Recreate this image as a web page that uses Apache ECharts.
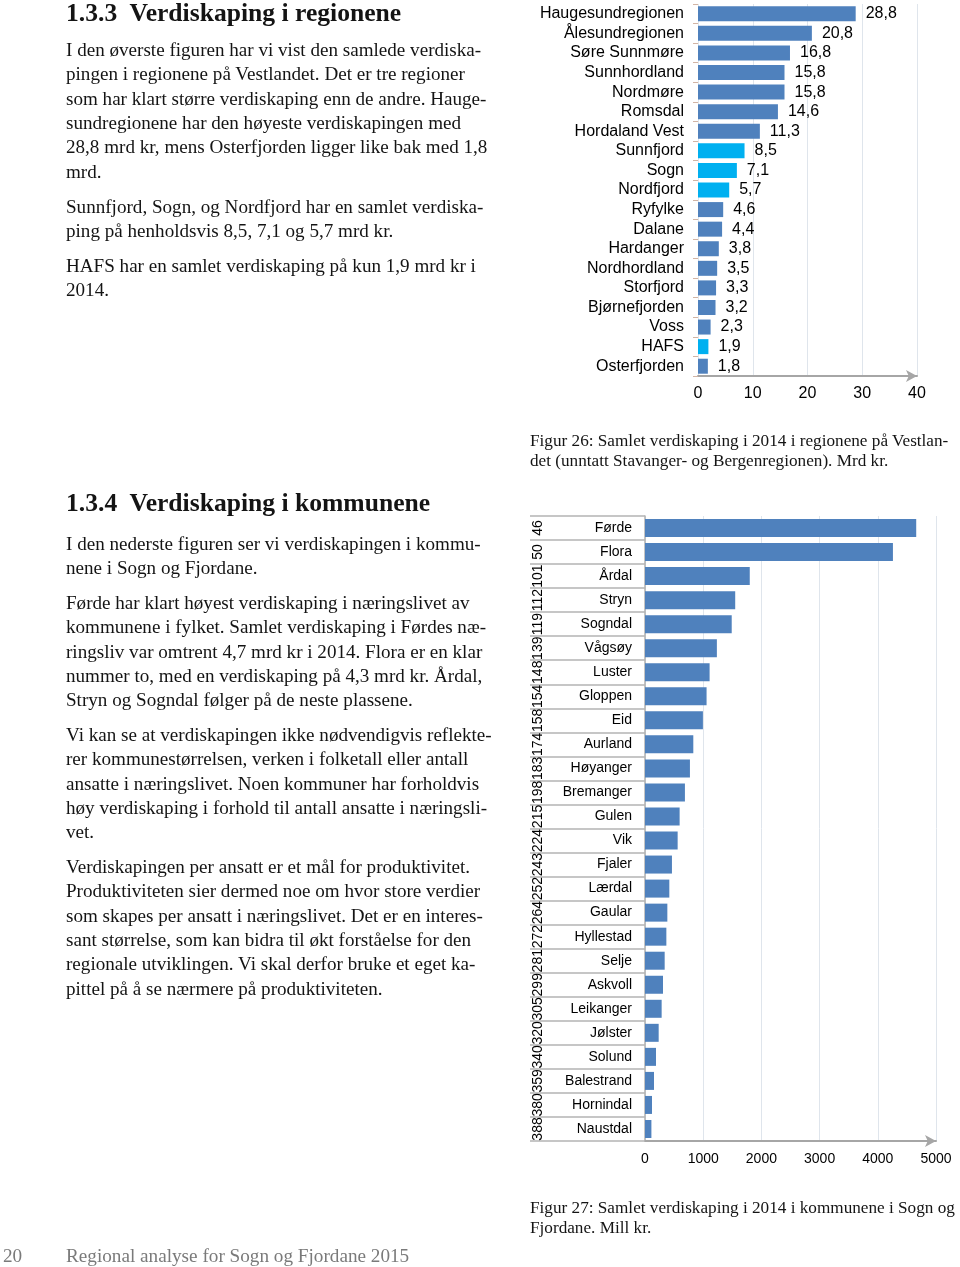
<!DOCTYPE html>
<html>
<head>
<meta charset="utf-8">
<script src="https://cdn.jsdelivr.net/npm/echarts@6/dist/echarts.min.js"></script>
<style>
html,body{margin:0;padding:0;background:#fff;}
#page{position:relative;width:960px;height:1267px;overflow:hidden;background:#fff;}
#chart{position:absolute;left:0;top:0;width:960px;height:1267px;}
.t{position:absolute;font-family:"Liberation Serif","DejaVu Serif",serif;color:#141414;white-space:pre;}
.h{font-size:25.6px;font-weight:bold;line-height:30px;left:66px;}
.p{font-size:19.1px;line-height:24.4px;left:66px;}
.c{font-size:17.2px;line-height:19.5px;left:530px;}
.f{font-size:19.2px;line-height:22px;color:#7a7a7a;}
</style>
</head>
<body>
<div id="page">
<div id="chart"></div>
<div class="t h" style="top:-2px">1.3.3  Verdiskaping i regionene</div>
<div class="t p" style="top:37.8px">I den øverste figuren har vi vist den samlede verdiska-
pingen i regionene på Vestlandet. Det er tre regioner
som har klart større verdiskaping enn de andre. Hauge-
sundregionene har den høyeste verdiskapingen med
28,8 mrd kr, mens Osterfjorden ligger like bak med 1,8
mrd.</div>
<div class="t p" style="top:194.8px">Sunnfjord, Sogn, og Nordfjord har en samlet verdiska-
ping på henholdsvis 8,5, 7,1 og 5,7 mrd kr.</div>
<div class="t p" style="top:253.8px">HAFS har en samlet verdiskaping på kun 1,9 mrd kr i
2014.</div>
<div class="t c" style="top:431px">Figur 26: Samlet verdiskaping i 2014 i regionene på Vestlan-
det (unntatt Stavanger- og Bergenregionen). Mrd kr.</div>
<div class="t h" style="top:488px">1.3.4  Verdiskaping i kommunene</div>
<div class="t p" style="top:531.8px">I den nederste figuren ser vi verdiskapingen i kommu-
nene i Sogn og Fjordane.</div>
<div class="t p" style="top:590.8px">Førde har klart høyest verdiskaping i næringslivet av
kommunene i fylket. Samlet verdiskaping i Førdes næ-
ringsliv var omtrent 4,7 mrd kr i 2014. Flora er en klar
nummer to, med en verdiskaping på 4,3 mrd kr. Årdal,
Stryn og Sogndal følger på de neste plassene.</div>
<div class="t p" style="top:722.8px">Vi kan se at verdiskapingen ikke nødvendigvis reflekte-
rer kommunestørrelsen, verken i folketall eller antall
ansatte i næringslivet. Noen kommuner har forholdvis
høy verdiskaping i forhold til antall ansatte i næringsli-
vet.</div>
<div class="t p" style="top:854.8px">Verdiskapingen per ansatt er et mål for produktivitet.
Produktiviteten sier dermed noe om hvor store verdier
som skapes per ansatt i næringslivet. Det er en interes-
sant størrelse, som kan bidra til økt forståelse for den
regionale utviklingen. Vi skal derfor bruke et eget ka-
pittel på å se nærmere på produktiviteten.</div>
<div class="t c" style="top:1198px">Figur 27: Samlet verdiskaping i 2014 i kommunene i Sogn og
Fjordane. Mill kr.</div>
<div class="t f" style="left:3px;top:1245px">20</div>
<div class="t f" style="left:66px;top:1245px">Regional analyse for Sogn og Fjordane 2015</div>
</div>
<script>
// ---- Figure 26: regions (mrd kr) ----
const regions = ['Haugesundregionen','Ålesundregionen','Søre Sunnmøre','Sunnhordland','Nordmøre','Romsdal','Hordaland Vest','Sunnfjord','Sogn','Nordfjord','Ryfylke','Dalane','Hardanger','Nordhordland','Storfjord','Bjørnefjorden','Voss','HAFS','Osterfjorden'];
const regionValues = [28.8,20.8,16.8,15.8,15.8,14.6,11.3,8.5,7.1,5.7,4.6,4.4,3.8,3.5,3.3,3.2,2.3,1.9,1.8];
const sognFjordaneRegions = ['Sunnfjord','Sogn','Nordfjord','HAFS'];
const regionTicks = [0,10,20,30,40];

// ---- Figure 27: municipalities (mill kr) ----
const municipalities = ['Førde','Flora','Årdal','Stryn','Sogndal','Vågsøy','Luster','Gloppen','Eid','Aurland','Høyanger','Bremanger','Gulen','Vik','Fjaler','Lærdal','Gaular','Hyllestad','Selje','Askvoll','Leikanger','Jølster','Solund','Balestrand','Hornindal','Naustdal'];
const municipalityValues = [4660,4260,1800,1550,1490,1235,1110,1058,995,830,772,686,595,561,463,418,384,367,338,309,286,235,189,155,120,110];
const nationalRanks = ['46','50','101','112','119','139','148','154','158','174','183','198','215','224','243','252','264','272','281','299','305','320','340','359','380','388'];
const municipalityTicks = [0,1000,2000,3000,4000,5000];

const DARK = '#4f81bd', LIGHT = '#00b0f0';
const SANS = '"Liberation Sans", Arial, sans-serif';

const chart = echarts.init(document.getElementById('chart'), null, {renderer:'canvas'});

const regionData = regionValues.map((v,i)=>({
  value:v,
  itemStyle:{color: sognFjordaneRegions.includes(regions[i]) ? LIGHT : DARK}
}));

const option = {
  animation:false,
  backgroundColor:'transparent',
  grid:[
    {left:698, top:4, width:219, height:372, containLabel:false},
    {left:645, top:516, width:291, height:625, containLabel:false}
  ],
  xAxis:[
    {type:'value', gridIndex:0, min:regionTicks[0], max:regionTicks[regionTicks.length-1], interval:10,
     axisLine:{show:true, lineStyle:{color:'#a6a6a6', width:2}, symbol:['none','arrow'], symbolSize:[9,11]},
     axisTick:{show:false},
     splitLine:{show:true, lineStyle:{color:'#dfe5ec', width:1}},
     axisLabel:{fontFamily:SANS, fontSize:16, color:'#000', margin:10, formatter:v=>String(v)}
    },
    {type:'value', gridIndex:1, min:municipalityTicks[0], max:municipalityTicks[municipalityTicks.length-1], interval:1000,
     axisLine:{show:true, lineStyle:{color:'#a6a6a6', width:2}, symbol:['none','arrow'], symbolSize:[9,11]},
     axisTick:{show:false},
     splitLine:{show:true, lineStyle:{color:'#dfe5ec', width:1}},
     axisLabel:{fontFamily:SANS, fontSize:14, color:'#000', margin:11, formatter:v=>String(v)}
    }
  ],
  yAxis:[
    {type:'category', gridIndex:0, data:regions, inverse:true,
     axisLine:{show:false},
     axisTick:{show:true, length:5, lineStyle:{color:'#d2b4a4'}},
     axisLabel:{fontFamily:SANS, fontSize:16, color:'#000', margin:14, interval:0}
    },
    {type:'category', gridIndex:1, data:municipalities, inverse:true,
     axisLine:{show:true, lineStyle:{color:'#b0b0b0', width:1.5}},
     axisTick:{show:true, length:115, interval:0, lineStyle:{color:'#b4b4b4', width:1.5}},
     axisLabel:{fontFamily:SANS, fontSize:14, color:'#000', margin:13, interval:0}
    },
    {type:'category', gridIndex:1, data:nationalRanks, inverse:true, position:'left',
     axisLine:{show:false}, axisTick:{show:false},
     axisLabel:{fontFamily:SANS, fontSize:14, color:'#000', margin:100, rotate:90, interval:0}
    }
  ],
  series:[
    {type:'bar', xAxisIndex:0, yAxisIndex:0, data:regionData, barWidth:15,
     label:{show:true, position:'right', distance:10, fontFamily:SANS, fontSize:16, color:'#000',
            formatter:p=>String(p.value).replace('.',',')}
    },
    {type:'bar', xAxisIndex:1, yAxisIndex:1, data:municipalityValues, barWidth:18,
     itemStyle:{color:DARK}}
  ]
};
chart.setOption(option);
</script>
</body>
</html>
